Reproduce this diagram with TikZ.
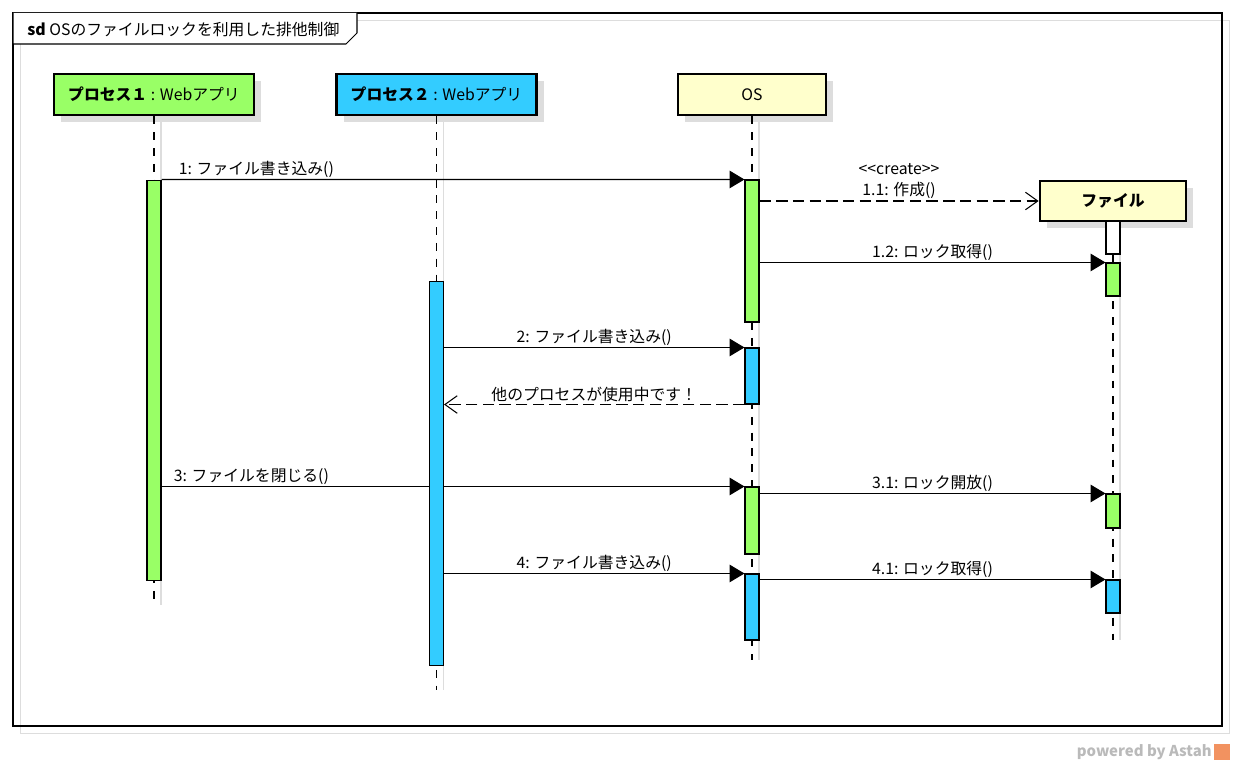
\documentclass[tikz,border=0pt]{standalone}
\usepackage{fontspec}
\setmainfont{Noto Sans CJK JP}
\usetikzlibrary{arrows.meta, positioning, shadows}
\definecolor{ProcGreen}{RGB}{153, 255, 102}
\definecolor{ProcBlue}{RGB}{51, 204, 255}
\definecolor{OsYellow}{RGB}{255, 255, 204}
\definecolor{ShadeGray}{RGB}{221, 221, 221}
\definecolor{AstahOrange}{RGB}{242, 146, 96}

\begin{document}
\begin{tikzpicture}[x=0.02cm, y=-0.02cm,
        every node/.style={font=\fontsize{9}{12}\selectfont},
        head/.style={rectangle, draw, line width=1.6pt, minimum height=0.82cm, align=center,
            drop shadow={shadow xshift=4pt, shadow yshift=-4pt, fill=ShadeGray, opacity=1}},
        act/.style={rectangle, draw, line width=0.6pt, minimum width=0.28cm, inner sep=0pt},
        life/.style={line width=0.6pt, dash pattern=on 4.5pt off 4.5pt},
        lifeshade/.style={draw=ShadeGray, line width=0.8pt},
        msg/.style={line width=0.6pt, -{Triangle[length=8.5pt, width=10pt]}},
        ret/.style={line width=0.6pt, dash pattern=on 6.5pt off 3pt, -{Straight Barb[length=7pt, width=10pt]}},
        lbl/.style={inner sep=1pt, align=center},
    ]
    \useasboundingbox (0,0) rectangle (1234,766);

    % frame
    \draw[ShadeGray] (20,20) rectangle (1229,733);
    \draw[line width=0.6pt] (13,13) rectangle (1222,726);
    \draw[line width=0.6pt, fill=white] (13,13) -- (13,44) -- (346,44) -- (357,33) -- (357,13);
    \node[anchor=west, inner sep=0pt] (title) at (27,30) {\textbf{sd} OSのファイルロックを利用した排他制御};

    % lifeline heads
    \node[head, fill=ProcGreen, minimum width=4cm] (p1) at (154,94.5) {\textbf{プロセス１} : Webアプリ};
    \node[head, fill=ProcBlue, minimum width=4cm] (p2) at (436.5,94.5) {\textbf{プロセス２} : Webアプリ};
    \node[head, fill=OsYellow, minimum width=2.96cm] (os) at (752,94.5) {OS};
    \node[head, fill=OsYellow, minimum width=2.92cm, minimum height=0.8cm] (file) at (1113,201) {\textbf{ファイル}};

    \coordinate (p1end) at (154,605);
    \coordinate (p2end) at (436.5,690);
    \coordinate (osend) at (752,660);
    \coordinate (fileend) at (1113,640);

    % lifelines
    \draw[lifeshade] ([xshift=4pt]p1.south) -- ([xshift=4pt]p1end);
    \draw[lifeshade] ([xshift=4pt]p2.south) -- ([xshift=4pt]p2end);
    \draw[lifeshade] ([xshift=4pt]os.south) -- ([xshift=4pt]osend);
    \draw[lifeshade] ([xshift=4pt]file.south) -- ([xshift=4pt]fileend);
    \draw[life] (p1) -- (p1end);
    \draw[life] (p2) -- (p2end);
    \draw[life] (os) -- (osend);
    \draw[life] (file) -- (fileend);

    % activations
    \node[act, fill=ProcGreen, minimum height=8.02cm] (p1a) at (154,380.5) {};
    \node[act, fill=ProcGreen, minimum height=2.84cm] (os1) at (752,251) {};
    \node[act, fill=ProcBlue, minimum height=1.12cm] (os2) at (752,376) {};
    \node[act, fill=ProcGreen, minimum height=1.34cm] (os3) at (752,520.5) {};
    \node[act, fill=ProcBlue, minimum height=1.32cm] (os4) at (752,607) {};
    \node[act, fill=white, minimum height=0.66cm] (f0) at (1113,237.5) {};
    \node[act, fill=ProcGreen, minimum height=0.66cm] (f1) at (1113,279.5) {};
    \node[act, fill=ProcGreen, minimum height=0.68cm] (f2) at (1113,511) {};
    \node[act, fill=ProcBlue, minimum height=0.66cm] (f3) at (1113,596.5) {};

    % messages
    \draw[msg] (p1a.north east) -- node[lbl, above right, pos=0, xshift=0.3cm] {1: ファイル書き込み()} (os1.north west);
    \draw[ret] (os1.east |- file.west) -- node[lbl, above] {<\kern0pt<create>\kern0pt>\\1.1: 作成()} (file.west);
    \draw[msg] (os1.east |- f1.north) -- node[lbl, above] {1.2: ロック取得()} (f1.north west);
    \draw[msg] (p1a.east |- os3.north) -- node[lbl, above right, pos=0, xshift=0.2cm] {3: ファイルを閉じる()} (os3.north west);
    \draw[msg] (os3.east |- f2.north) -- node[lbl, above] {3.1: ロック開放()} (f2.north west);
    \draw[msg] (os4.east |- f3.north) -- node[lbl, above] {4.1: ロック取得()} (f3.north west);

    \node[act, fill=ProcBlue, minimum height=7.7cm] (p2a) at (436.5,473.5) {};
    \draw[msg] (p2a.east |- os2.north) -- node[lbl, above] {2: ファイル書き込み()} (os2.north west);
    \draw[ret] (os2.south west) -- node[lbl, above] {他のプロセスが使用中です！} (p2a.east |- os2.south);
    \draw[msg] (p2a.east |- os4.north) -- node[lbl, above] {4: ファイル書き込み()} (os4.north west);

    % footer
    \node[anchor=east, inner sep=0pt, text=black!27, font=\bfseries\fontsize{8.5}{10}\selectfont] (astah) at (1212,752) {powered by Astah};
    \node[fill=AstahOrange, minimum size=0.32cm, inner sep=0pt, right=1pt of astah] (logo) {};
\end{tikzpicture}
\end{document}
